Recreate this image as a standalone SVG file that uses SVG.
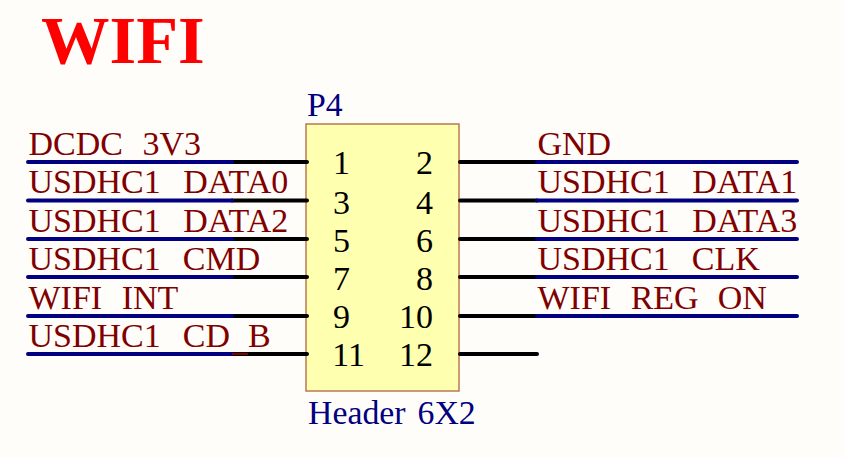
<svg xmlns="http://www.w3.org/2000/svg" width="845" height="458" viewBox="0 0 845 458">
<style>
text{font-family:"Liberation Serif","Times New Roman",serif}
.net{font-size:34px;fill:#800000}
.pin{font-size:34px;fill:#000}
.des{font-size:33.800px;fill:#000080;font-kerning:none}
.blue{stroke:#000080;stroke-width:4;stroke-linecap:round;fill:none}
.blk{stroke:#000;stroke-width:4;stroke-linecap:round;fill:none}
</style>
<rect width="845" height="458" fill="#fffdf9"/>
<text id="title" x="41" y="63" font-size="68.500" font-weight="bold" fill="#ff0000">WIFI</text>
<g id="P4">
<rect x="306" y="124" width="153" height="267" fill="#ffffb0" stroke="#b87850" stroke-width="1.500"/>
<text class="des" x="307" y="116">P4</text>
<text class="des" x="308" y="424" word-spacing="3.500">Header 6X2</text>
<g class="pin" text-anchor="end">
<text x="350" y="174">1</text><text x="350" y="214">3</text><text x="350" y="252">5</text>
<text x="350" y="290">7</text><text x="350" y="328">9</text><text x="365" y="366">11</text>
</g>
<g class="pin" text-anchor="end">
<text x="433" y="174">2</text><text x="433" y="214">4</text><text x="433" y="252">6</text>
<text x="433" y="290">8</text><text x="433" y="328">10</text><text x="433" y="366">12</text>
</g>
</g>
<g id="labels" class="net">
<text x="28.500" y="155">DCDC<tspan dy="3">_</tspan><tspan dy="-3" dx="2.500">3V3</tspan></text>
<text x="28.500" y="193">USDHC1<tspan dy="4">_</tspan><tspan dy="-4" dx="5.500">DATA0</tspan></text>
<text x="28.500" y="232">USDHC1<tspan dy="4">_</tspan><tspan dy="-4" dx="5.500">DATA2</tspan></text>
<text x="28.500" y="270">USDHC1<tspan dy="4">_</tspan><tspan dy="-4" dx="5">CMD</tspan></text>
<text x="28.500" y="309">WIFI<tspan dy="4">_</tspan><tspan dy="-4" dx="2.500">INT</tspan></text>
<text x="28.500" y="347">USDHC1<tspan dy="4">_</tspan><tspan dy="-4" dx="5">CD</tspan><tspan dy="4">_</tspan><tspan dy="-4" dx="1">B</tspan></text>
<text x="537.500" y="155">GND</text>
<text x="537.500" y="193">USDHC1<tspan dy="4">_</tspan><tspan dy="-4" dx="5.500">DATA1</tspan></text>
<text x="537.500" y="232">USDHC1<tspan dy="4">_</tspan><tspan dy="-4" dx="5.500">DATA3</tspan></text>
<text x="537.500" y="270">USDHC1<tspan dy="4">_</tspan><tspan dy="-4" dx="5">CLK</tspan></text>
<text x="537.500" y="309">WIFI<tspan dy="4">_</tspan><tspan dy="-4" dx="2.500">REG</tspan><tspan dy="4">_</tspan><tspan dy="-4" dx="2">ON</tspan></text>
</g>
<g id="connectors">
<path class="blk" d="M232 162H307M232 200.500H307M232 239H307M232 277H307M232 316H307M232 354H307"/>
<path class="blk" d="M460 162H537M460 200.500H537M460 239H537M460 277H537M460 316H537M460 354H537"/>
<path class="blue" d="M28 162H232M28 200.500H232M28 239H232M28 277H232M28 316H232M28 354H232"/>
<path class="blue" d="M537 162H797M537 200.500H797M537 239H797M537 277H797M537 316H797"/>
<path d="M232 354H248" stroke="#800000" stroke-width="2" fill="none"/>
</g>
</svg>
